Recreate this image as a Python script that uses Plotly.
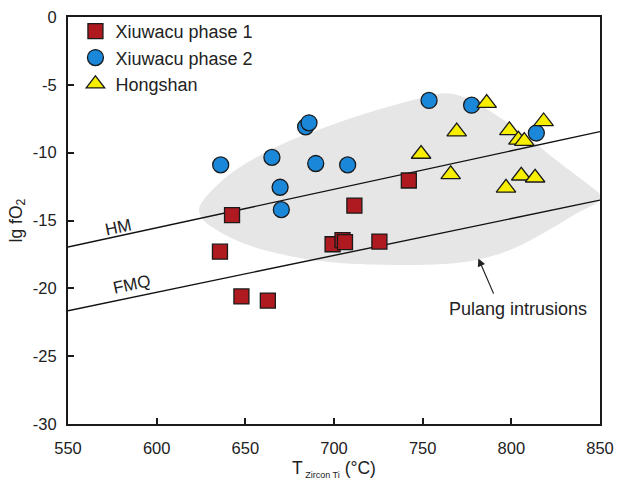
import plotly.graph_objects as go

# Zircon Ti-in thermometer temperatures (°C) and oxygen fugacity (lg fO2)
phase1_T = [635.7, 642.5, 647.8, 662.7, 699.2, 704.8, 706.2, 711.5, 725.6, 742.2]
phase1_fO2 = [-17.3, -14.6, -20.6, -20.9, -16.75, -16.45, -16.6, -13.9, -16.55, -12.05]

phase2_T = [636.1, 665.0, 684.0, 685.9, 689.7, 707.7, 669.6, 670.3, 753.6, 777.6, 814.1]
phase2_fO2 = [-10.9, -10.35, -8.1, -7.8, -10.8, -10.9, -12.55, -14.2, -6.15, -6.5, -8.55]

hongshan_T = [786.1, 769.2, 798.9, 818.2, 804.0, 807.3, 749.1, 765.8, 797.0, 805.6, 813.4]
hongshan_fO2 = [-6.35, -8.45, -8.35, -7.7, -9.05, -9.15, -10.1, -11.6, -12.6, -11.7, -11.85]

# Oxygen buffer curves
buffer_T = [550, 850]
hm_fO2 = [-16.95, -8.45]
fmq_fO2 = [-21.65, -13.5]

# Outline of the Pulang intrusions field
pulang_T = [624.0, 626.3, 633.9, 648.9, 667.7, 695.9, 733.4, 761.6, 780.5, 799.3,
            818.0, 836.9, 850.0, 850.0, 842.5, 827.4, 808.7, 789.7, 774.8, 763.6,
            752.3, 724.1, 695.9, 667.7, 639.5, 624.0]
pulang_fO2 = [-14.1, -14.96, -15.7, -16.68, -17.42, -18.04, -18.28, -18.21, -17.91, -17.17,
              -15.94, -14.47, -13.49, -13.12, -12.26, -10.76, -8.82, -7.08, -5.99, -5.62,
              -5.87, -6.85, -8.09, -9.56, -11.77, -14.1]

x_ticks = [550, 600, 650, 700, 750, 800, 850]
y_ticks = [0, -5, -10, -15, -20, -25, -30]

FONT = "Liberation Sans, Arial, sans-serif"
TXT = "#222222"

fig = go.Figure()

fig.add_trace(go.Scatter(
    x=pulang_T, y=pulang_fO2, mode="lines", fill="toself",
    fillcolor="#E6E6E6", line=dict(color="rgba(0,0,0,0)", width=0, shape="spline", smoothing=1.0),
    showlegend=False, hoverinfo="skip",
))

fig.add_trace(go.Scatter(
    x=buffer_T, y=hm_fO2, mode="lines", line=dict(color="#111111", width=1.4),
    showlegend=False, hoverinfo="skip",
))
fig.add_trace(go.Scatter(
    x=buffer_T, y=fmq_fO2, mode="lines", line=dict(color="#111111", width=1.4),
    showlegend=False, hoverinfo="skip",
))

outline = dict(color="#1a1a1a", width=1.3)
fig.add_trace(go.Scatter(
    x=phase1_T, y=phase1_fO2, mode="markers", name="Xiuwacu phase 1",
    marker=dict(symbol="square", size=15, color="#AE1A1F", line=outline),
))
fig.add_trace(go.Scatter(
    x=phase2_T, y=phase2_fO2, mode="markers", name="Xiuwacu phase 2",
    marker=dict(symbol="circle", size=16, color="#1B87D9", line=outline),
))
fig.add_trace(go.Scatter(
    x=hongshan_T, y=hongshan_fO2, mode="markers", name="Hongshan",
    marker=dict(symbol="triangle-up", size=17, color="#F7EE00", line=outline),
))

fig.add_annotation(x=578.2, y=-15.5, text="HM", showarrow=False, textangle=-12,
                   font=dict(family=FONT, size=17, color=TXT))
fig.add_annotation(x=586.0, y=-19.75, text="FMQ", showarrow=False, textangle=-12,
                   font=dict(family=FONT, size=17, color=TXT))
fig.add_annotation(x=781.4, y=-17.8, ax=791.7, ay=-20.9, axref="x", ayref="y",
                   xref="x", yref="y", text=" ", showarrow=True,
                   arrowhead=2, arrowsize=1.3, arrowwidth=1.2, arrowcolor="#222222")
fig.add_annotation(x=803.5, y=-21.5, text="Pulang intrusions", showarrow=False,
                   font=dict(family=FONT, size=18, color=TXT))

axis_common = dict(
    showline=True, linecolor="#1a1a1a", linewidth=2, mirror=True,
    ticks="inside", ticklen=6, tickwidth=1.5, tickcolor="#1a1a1a",
    showgrid=False, zeroline=False, automargin=False,
    tickfont=dict(family=FONT, size=16.5, color=TXT),
)

fig.update_xaxes(
    range=[550, 850], tickvals=x_ticks, ticktext=[str(v) for v in x_ticks],
    title=dict(text="T<sub><span style='font-size:9px'> Zircon Ti</span></sub> (°C)",
               font=dict(family=FONT, size=17.5, color=TXT), standoff=6),
    ticklabelstandoff=8,
    **axis_common,
)
fig.update_yaxes(
    range=[-30, 0], tickvals=y_ticks, ticktext=[str(v) for v in y_ticks],
    title=dict(text="lg fO<sub>2</sub>", font=dict(family=FONT, size=17.5, color=TXT), standoff=6),
    ticklabelstandoff=6,
    **axis_common,
)

fig.update_layout(
    width=618, height=482,
    margin=dict(l=68, r=18, t=17, b=58),
    paper_bgcolor="white", plot_bgcolor="white",
    font=dict(family=FONT, color=TXT),
    legend=dict(x=0.014, y=1.01, xanchor="left", yanchor="top",
                bgcolor="rgba(0,0,0,0)", font=dict(family=FONT, size=18, color=TXT),
                tracegroupgap=0, itemsizing="trace"),
)

fig.write_html("out.html")
